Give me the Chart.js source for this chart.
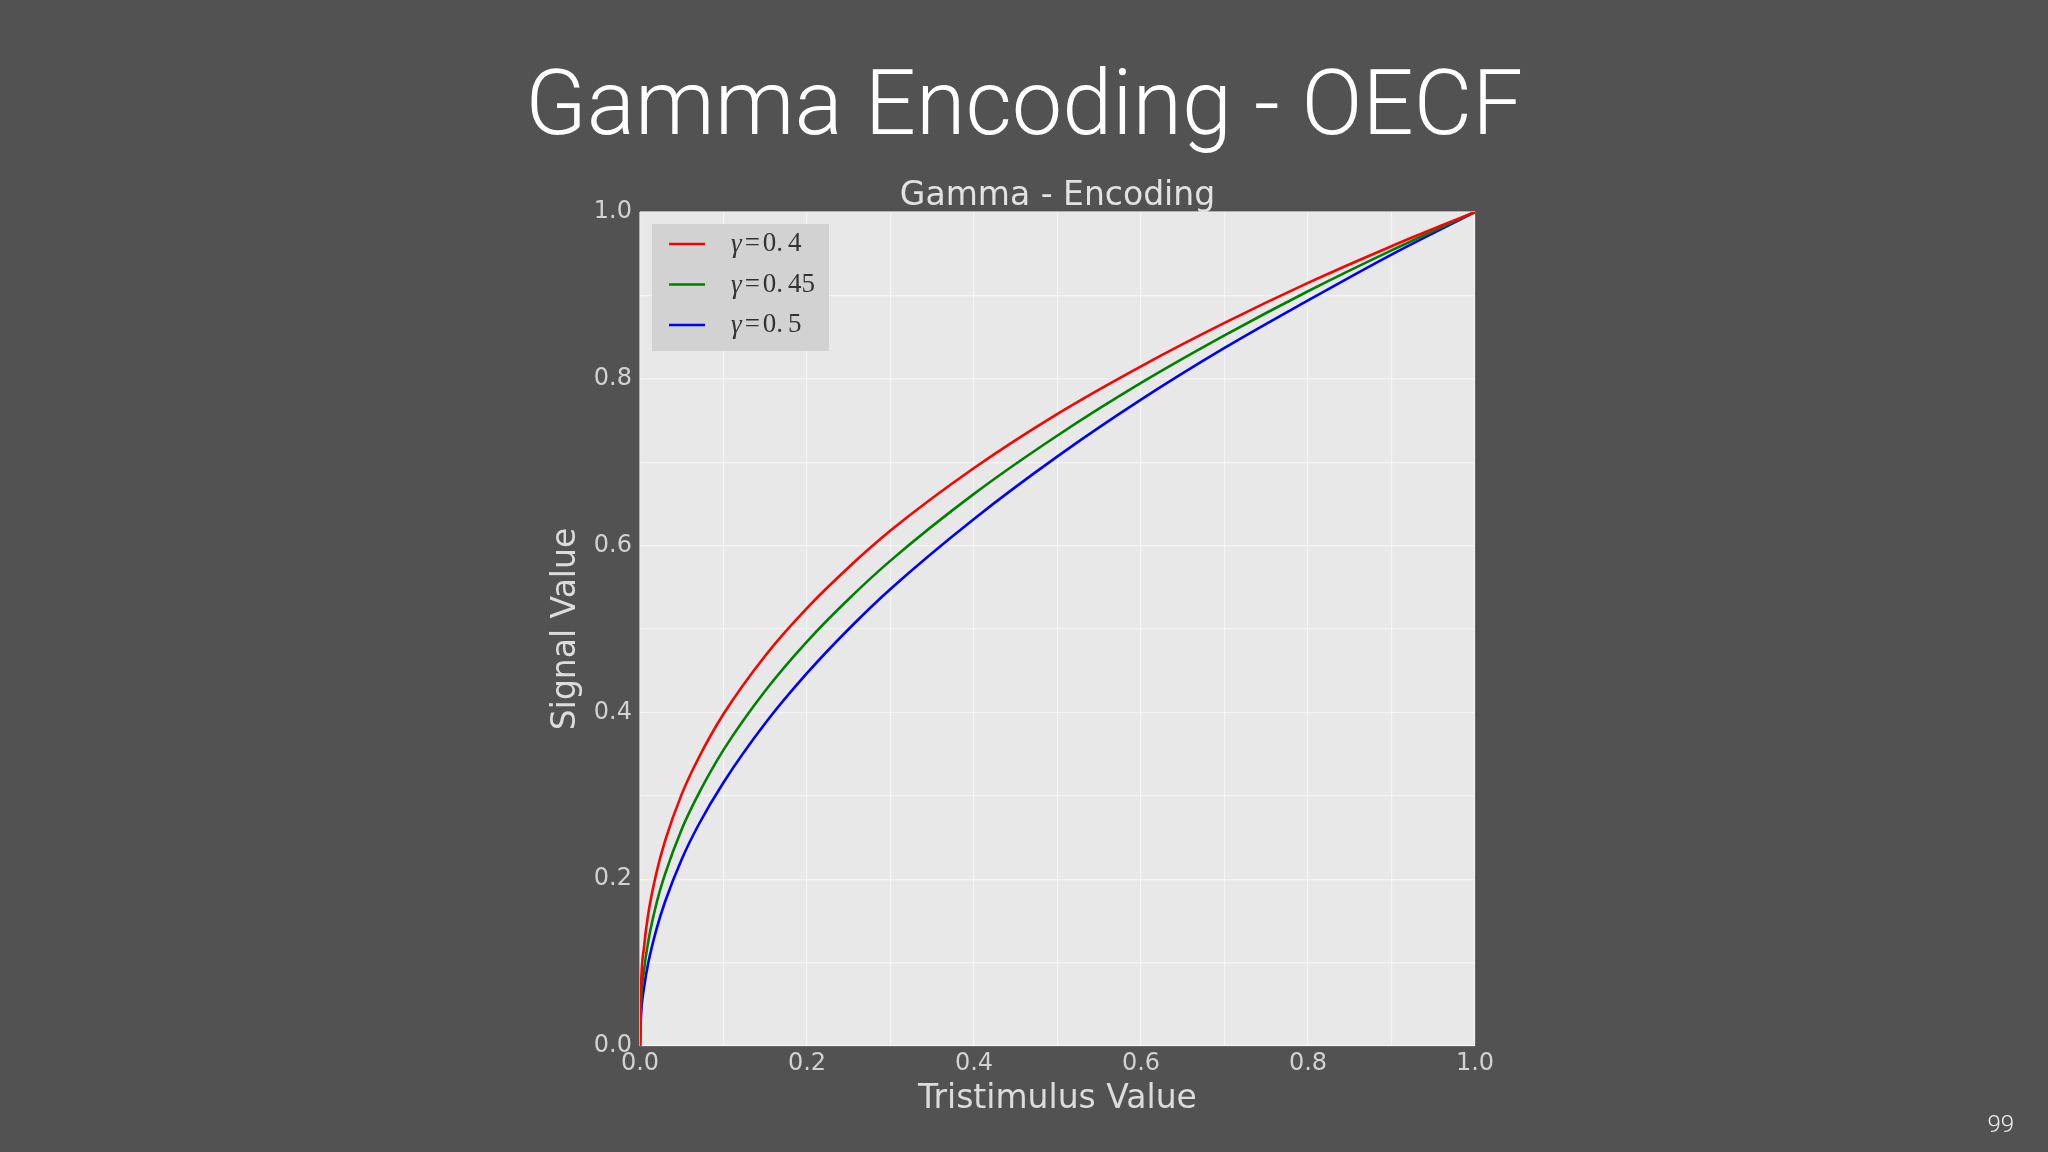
<!DOCTYPE html>
<html>
<head>
<meta charset="utf-8">
<script src="https://cdn.jsdelivr.net/npm/chart.js@4.4.1/dist/chart.umd.min.js"></script>
<style>
  html, body { margin:0; padding:0; background:#525253; overflow:hidden; }
  #wrap { position:relative; width:2048px; height:1152px; background:#525253; }
  #slideTitle { position:absolute; left:0; top:59px; width:2048px; text-align:center;
    font-family:Roboto, "Liberation Sans", sans-serif; font-weight:300; font-size:90px; line-height:90px; color:#ffffff; }
  #pageNum { position:absolute; right:34px; top:1112px; font-family:Roboto, sans-serif; font-weight:300;
    font-size:24px; line-height:24px; color:#f0f0f0; }
  canvas { position:absolute; left:0; top:0; }
</style>
</head>
<body>
<div id="wrap">
  <div id="slideTitle">Gamma Encoding - OECF</div>
  <canvas id="c" width="2048" height="1152"></canvas>
  <div id="pageNum">99</div>
</div>
<script>
// Data
const tristimulus = [0, 0.001, 0.005, 0.01, 0.02, 0.03, 0.05, 0.07, 0.1, 0.15, 0.2, 0.25, 0.3, 0.4, 0.5, 0.6, 0.7, 0.8, 0.9, 1.0];
const signalGamma040 = [0, 0.063, 0.120, 0.159, 0.209, 0.246, 0.302, 0.345, 0.398, 0.468, 0.525, 0.574, 0.618, 0.693, 0.758, 0.815, 0.867, 0.915, 0.959, 1.0];
const signalGamma045 = [0, 0.045, 0.092, 0.126, 0.172, 0.206, 0.260, 0.302, 0.355, 0.426, 0.485, 0.536, 0.582, 0.662, 0.732, 0.795, 0.852, 0.905, 0.954, 1.0];
const signalGamma050 = [0, 0.032, 0.071, 0.100, 0.141, 0.173, 0.224, 0.265, 0.316, 0.387, 0.447, 0.500, 0.548, 0.632, 0.707, 0.775, 0.837, 0.894, 0.949, 1.0];
const seriesLabels = ["γ=0.4", "γ=0.45", "γ=0.5"];
const seriesColors = ["#ff0000", "#008000", "#0000ff"];
const axisTicks = [0.0, 0.2, 0.4, 0.6, 0.8, 1.0];

const allSeries = [signalGamma040, signalGamma045, signalGamma050];
const datasets = allSeries.map((ys, i) => ({
  label: seriesLabels[i],
  data: tristimulus.map((x, j) => ({x: x, y: ys[j]})),
  borderColor: seriesColors[i],
  borderWidth: 2.6,
  pointRadius: 0,
  fill: false,
  cubicInterpolationMode: 'monotone'
}));

function tickCb(value) {
  const v = Math.round(value * 10) / 10;
  return axisTicks.some(t => Math.abs(t - v) < 1e-6) ? v.toFixed(1) : '';
}

const plotBg = {
  id: 'plotBg',
  beforeDraw(chart) {
    const {ctx, chartArea: a} = chart;
    ctx.save();
    ctx.fillStyle = '#e8e8e8';
    ctx.fillRect(a.left, a.top, a.right - a.left, a.bottom - a.top);
    ctx.restore();
  }
};

const mathLegend = {
  id: 'mathLegend',
  afterDatasetsDraw(chart) {
    const {ctx, chartArea: a} = chart;
    const bx = a.left + 12, by = a.top + 12, bw = 177, bh = 127;
    const serif = '"Liberation Serif", "DejaVu Serif", serif';
    ctx.save();
    ctx.fillStyle = '#d2d2d2';
    ctx.fillRect(bx, by, bw, bh);
    chart.data.datasets.forEach((ds, i) => {
      const y = by + 20 + i * 40.5;
      ctx.strokeStyle = ds.borderColor;
      ctx.lineWidth = 2.6;
      ctx.beginPath();
      ctx.moveTo(bx + 17, y);
      ctx.lineTo(bx + 53, y);
      ctx.stroke();
      const label = ds.label;
      const eq = label.indexOf('=');
      const dot = label.indexOf('.');
      const parts = [
        {t: label.slice(0, eq), it: true, gap: 3},
        {t: '=', it: false, gap: 3},
        {t: label.slice(eq + 1, dot + 1), it: false, gap: 5},
        {t: label.slice(dot + 1), it: false, gap: 0}
      ];
      ctx.fillStyle = '#333333';
      ctx.textBaseline = 'middle';
      let tx = bx + 79;
      parts.forEach(p => {
        ctx.font = (p.it ? 'italic ' : '') + '27px ' + serif;
        ctx.fillText(p.t, tx, p.it ? y + 1 : y);
        tx += ctx.measureText(p.t).width + p.gap;
      });
    });
    ctx.restore();
  }
};

const tickColor = '#d2d2d2';
const labelColor = '#dcdcdc';
const gridColor = 'rgba(255,255,255,0.55)';

new Chart(document.getElementById('c'), {
  type: 'line',
  data: { datasets: datasets },
  plugins: [plotBg, mathLegend],
  options: {
    responsive: false,
    animation: false,
    devicePixelRatio: 1,
    layout: { padding: { left: 540, right: 573, top: 168.4, bottom: 32.6 } },
    plugins: {
      legend: { display: false },
      tooltip: { enabled: false },
      title: {
        display: true,
        text: 'Gamma - Encoding',
        fullSize: false,
        color: '#e2e2e2',
        font: { family: '"DejaVu Sans", sans-serif', size: 33, weight: 'normal', lineHeight: 1.2 },
        padding: { top: 8, bottom: -4 }
      }
    },
    scales: {
      x: {
        type: 'linear', min: 0, max: 1,
        afterFit(scale) { scale.height = 73.4; },
        border: { display: false },
        grid: { color: gridColor, lineWidth: 1.2, drawTicks: false },
        ticks: { stepSize: 0.1, autoSkip: false, maxRotation: 0, padding: 3, color: tickColor,
          font: { family: '"DejaVu Sans", sans-serif', size: 24 }, callback: tickCb },
        title: { display: true, text: 'Tristimulus Value', color: labelColor,
          font: { family: '"DejaVu Sans", sans-serif', size: 33, lineHeight: 1.2 },
          padding: { top: 0, bottom: 0 } }
      },
      y: {
        type: 'linear', min: 0, max: 1,
        afterFit(scale) { scale.width = 100; },
        border: { display: false },
        grid: { color: gridColor, lineWidth: 1.2, drawTicks: false },
        ticks: { stepSize: 0.1, autoSkip: false, padding: 8, color: tickColor,
          font: { family: '"DejaVu Sans", sans-serif', size: 24 }, callback: tickCb },
        title: { display: true, text: 'Signal Value', color: labelColor,
          font: { family: '"DejaVu Sans", sans-serif', size: 33, lineHeight: 1.2 },
          padding: { top: 6.8, bottom: 0 } }
      }
    }
  }
});
</script>
</body>
</html>
